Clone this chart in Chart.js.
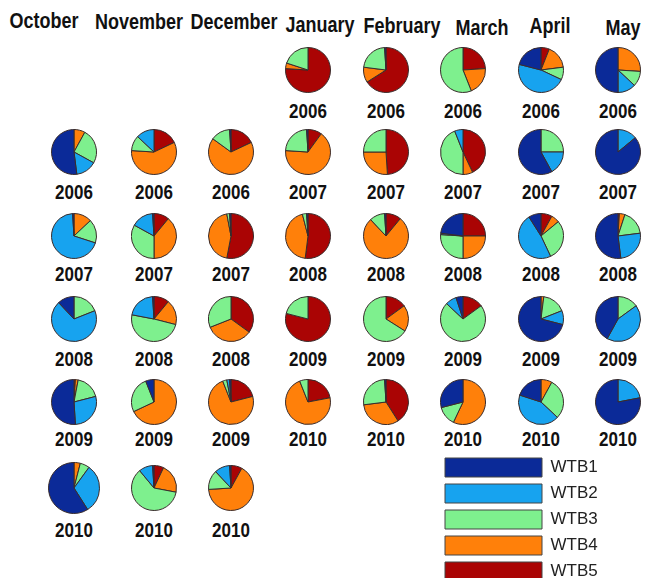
<!DOCTYPE html>
<html>
<head>
<meta charset="utf-8">
<script src="https://cdn.jsdelivr.net/npm/chart.js@4"></script>
<style>
body{margin:0;background:#fff;overflow:hidden;font-family:"Liberation Sans",Arial,sans-serif;}
#page{position:relative;width:648px;height:578px;overflow:hidden;}
.month,.year{position:absolute;font-weight:bold;color:#111;white-space:nowrap;transform:translate(-50%,-50%) scaleY(1.2);}
.month{font-size:18px;}
.year{font-size:17px;}
canvas{position:absolute;}
</style>
</head>
<body>
<div id="page"></div>
<script>
// DATA
const series=["WTB1","WTB2","WTB3","WTB4","WTB5"];
const monthNames=["October","November","December","January","February","March","April","May"];

const pieMonths=[
  "January","February","March","April","May",
  "October","November","December","January","February","March","April","May",
  "October","November","December","January","February","March","April","May",
  "October","November","December","January","February","March","April","May",
  "October","November","December","January","February","March","April","May",
  "October","November","December"
];
const pieYears=[
  "2006","2006","2006","2006","2006",
  "2006","2006","2006","2007","2007","2007","2007","2007",
  "2007","2007","2007","2008","2008","2008","2008","2008",
  "2008","2008","2008","2009","2009","2009","2009","2009",
  "2009","2009","2009","2010","2010","2010","2010","2010",
  "2010","2010","2010"
];

// share of each WTB per pie (%)
const wtb1=[0,1,0,21,50, 52,0,1,1,0,0,58,86, 1,1,1,1,1,23,9,52, 12,1,0,0,0,5,71,42, 51,6,1,0,1,29,20,78, 59,1,1];
const wtb2=[0,0,0,47,13, 15,13,0,0,0,6,17,14, 69,16,0,0,0,1,48,25, 69,21,0,0,0,8,10,43, 28,0,2,0,0,0,43,22, 31,10,11];
const wtb3=[20,22,56,9,11, 25,11,14,23,25,44,25,0, 17,33,2,3,11,26,29,18, 19,49,31,21,66,72,17,15, 18,26,3,6,26,14,29,0, 6,61,14];
const wtb4=[4,11,20,17,26, 8,58,67,66,26,7,0,0, 13,39,44,44,77,25,6,4, 0,18,34,0,19,0,2,0, 2,68,73,72,32,57,8,0, 4,21,66];
const wtb5=[76,66,24,6,0, 0,18,18,10,49,43,0,0, 0,11,53,52,11,25,8,1, 0,11,35,79,15,15,0,0, 1,0,21,22,41,0,0,0, 0,7,8];

// STYLE / LAYOUT
const colors=["#0b2a98","#17a3ef","#7ef08e","#ff800a","#aa0404"];
const colX=[74,154,231,308,386,463,541,618];
const rowPieY=[70,152,236,319,402,488];
const rowLabelY=[112,193,275,360,440,531];
const headX=[44,139,234,320,402,482,550,623];
const headY=[21,22,22,25,26,28,26,28];

const page=document.getElementById("page");

// HEADERS
monthNames.forEach((m,i)=>{
  let d=document.createElement("div");
  d.className="month";
  d.textContent=m;
  d.style.left=headX[i]+"px";
  d.style.top=headY[i]+"px";
  page.appendChild(d);
});

// PIES
function makePie(i,cx,cy,size){
  let c=document.createElement("canvas");
  c.width=size;c.height=size;
  c.style.left=(cx-size/2)+"px";
  c.style.top=(cy-size/2)+"px";
  page.appendChild(c);
  // chart.js goes clockwise, the original goes counter-clockwise -> reverse
  new Chart(c,{
    type:"pie",
    data:{
      labels:series.slice().reverse(),
      datasets:[{
        data:[wtb5[i],wtb4[i],wtb3[i],wtb2[i],wtb1[i]],
        backgroundColor:colors.slice().reverse(),
        borderColor:"#3a2c2c",
        borderWidth:1
      }]
    },
    options:{
      responsive:false,animation:false,events:[],
      plugins:{legend:{display:false},tooltip:{enabled:false}}
    }
  });
}

let row=0;
pieMonths.forEach((m,i)=>{
  if(m==="October"&&i>0) row++;
  let col=monthNames.indexOf(m);
  let size=(row===5&&col===0)?52:46;
  makePie(i,colX[col],rowPieY[row],size);

  let d=document.createElement("div");
  d.className="year";
  d.textContent=pieYears[i];
  d.style.left=colX[col]+"px";
  d.style.top=rowLabelY[row]+"px";
  page.appendChild(d);
});

// LEGEND
let lc=document.createElement("canvas");
lc.width=213;lc.height=140;
lc.style.left="438px";lc.style.top="451px";
page.appendChild(lc);
new Chart(lc,{
  type:"pie",
  data:{
    labels:series,
    datasets:[{data:[0,0,0,0,0],backgroundColor:colors,borderColor:"#444",borderWidth:1}]
  },
  options:{
    responsive:false,animation:false,events:[],
    plugins:{
      tooltip:{enabled:false},
      legend:{
        position:"left",align:"start",maxWidth:213,
        labels:{boxWidth:97,boxHeight:19,padding:7,color:"#222",
          font:{size:17,family:'"Liberation Sans", Arial, sans-serif'}}
      }
    }
  }
});
</script>
</body>
</html>
